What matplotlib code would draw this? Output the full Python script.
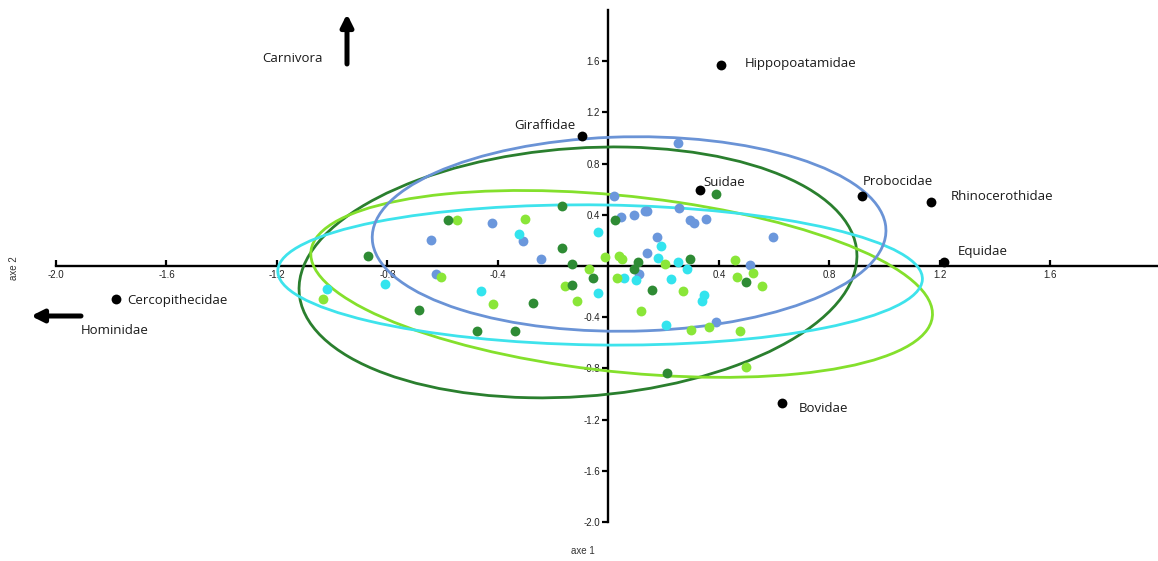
import matplotlib
matplotlib.use("Agg")
import matplotlib.pyplot as plt
from matplotlib.patches import Ellipse
import numpy as np

# scatter groups (axe 1, axe 2)
blue_x = [-0.641, -0.421, -0.309, -0.244, -0.623, 0.252, 0.02, 0.045, 0.092, 0.132, 0.139,
          0.255, 0.295, 0.31, 0.352, 0.175, 0.595, 0.139, 0.511, 0.11, 0.39]
blue_y = [0.20, 0.335, 0.195, 0.055, -0.06, 0.96, 0.55, 0.38, 0.40, 0.43, 0.43,
          0.45, 0.36, 0.335, 0.37, 0.23, 0.23, 0.10, 0.008, -0.06, -0.435]

cyan_x = [-0.323, -0.038, -0.807, -1.017, -0.46, -0.038, 0.19, 0.179, 0.251, 0.284, 0.056,
          0.099, 0.226, 0.345, 0.338, 0.208]
cyan_y = [0.25, 0.265, -0.14, -0.18, -0.195, -0.21, 0.16, 0.06, 0.03, -0.02, -0.09,
          -0.11, -0.10, -0.225, -0.275, -0.46]

ltgreen_x = [-0.548, -0.302, -0.07, -0.605, -1.035, -0.417, -0.157, -0.114, -0.013, 0.038,
             0.049, 0.204, 0.458, 0.031, 0.465, 0.525, 0.558, 0.27, 0.117, 0.30, 0.363,
             0.478, 0.497]
ltgreen_y = [0.36, 0.366, -0.02, -0.085, -0.26, -0.30, -0.16, -0.27, 0.07, 0.08,
             0.055, 0.016, 0.047, -0.09, -0.085, -0.055, -0.16, -0.195, -0.35, -0.50, -0.48,
             -0.51, -0.79]

dkgreen_x = [-0.168, -0.580, -0.168, -0.872, -0.132, -0.056, -0.684, -0.273, -0.132, -0.475,
             -0.338, 0.389, 0.024, 0.107, 0.295, 0.092, 0.497, 0.157, 0.212]
dkgreen_y = [0.468, 0.36, 0.14, 0.08, 0.016, -0.09, -0.34, -0.29, -0.15, -0.51,
             -0.51, 0.56, 0.36, 0.03, 0.055, -0.02, -0.125, -0.19, -0.835]

# families (black dots)
fam_names = ["Hippopoatamidae", "Giraffidae", "Suidae", "Probocidae", "Rhinocerothidae",
             "Equidae", "Cercopithecidae", "Bovidae"]
fam_x = [0.407, -0.096, 0.331, 0.920, 1.169, 1.216, -1.784, 0.630]
fam_y = [1.567, 1.013, 0.592, 0.546, 0.499, 0.031, -0.257, -1.068]

# ellipses: centre, sqrt of variances and covariance
ell_cx = [-0.11, 0.048, -0.03, 0.075]
ell_cy = [-0.05, -0.14, -0.07, 0.25]
ell_sx = [1.01, 1.1255, 1.167, 0.93]
ell_sy = [0.98, 0.73, 0.548, 0.76]
ell_sxy = [0.13, -0.264, -0.035, 0.025]

c_blue = "#6b97dc"
c_cyan = "#33e4ee"
c_lt = "#8ae638"
c_dk = "#2e8b34"
ell_colors = ["#2a7f2e", "#84e02c", "#3ee3ec", "#6a93d6"]

# label offsets in pixels (dx, dy, ha)
lab_off = [(24, 2, "left"), (-6, 11, "right"), (4, 8, "left"), (0, 15, "left"),
           (20, 6, "left"), (14, 11, "left"), (12, -2, "left"), (16, -6, "left")]

fig = plt.figure(figsize=(11.58, 5.61), dpi=100)
ax = fig.add_axes([56 / 1158, 39 / 561, 1102 / 1158, 512 / 561])
ax.set_xlim(-2.0, 1.99)
ax.set_ylim(-2.0, 2.0)

for cx, cy, sx, sy, sxy, col in zip(ell_cx, ell_cy, ell_sx, ell_sy, ell_sxy, ell_colors):
    cov = np.array([[sx ** 2, sxy], [sxy, sy ** 2]])
    vals, vecs = np.linalg.eigh(cov)
    ang = np.degrees(np.arctan2(vecs[1, 1], vecs[0, 1]))
    ax.add_patch(Ellipse((cx, cy), 2 * np.sqrt(vals[1]), 2 * np.sqrt(vals[0]), angle=ang,
                         fill=False, edgecolor=col, lw=2.0, zorder=2))

ms = 50
ax.scatter(blue_x, blue_y, s=ms, color=c_blue, lw=0, zorder=3)
ax.scatter(cyan_x, cyan_y, s=ms, color=c_cyan, lw=0, zorder=3)
ax.scatter(ltgreen_x, ltgreen_y, s=ms, color=c_lt, lw=0, zorder=3)
ax.scatter(dkgreen_x, dkgreen_y, s=ms, color=c_dk, lw=0, zorder=3)
ax.scatter(fam_x, fam_y, s=ms, color="black", lw=0, zorder=4)

for name, x, y, (dx, dy, ha) in zip(fam_names, fam_x, fam_y, lab_off):
    ax.annotate(name, (x, y), xytext=(dx, dy), textcoords="offset pixels",
                ha=ha, va="center", fontsize=9.5, family="Open Sans", color="#1a1a1a")

# axes through origin
for s in ["top", "right"]:
    ax.spines[s].set_visible(False)
ax.spines["left"].set_position(("data", 0))
ax.spines["bottom"].set_position(("data", 0))
ax.spines["left"].set_linewidth(1.7)
ax.spines["bottom"].set_linewidth(1.7)
ax.spines["left"].set_zorder(1)
ax.spines["bottom"].set_zorder(1)

xt = [-2.0, -1.6, -1.2, -0.8, -0.4, 0.4, 0.8, 1.2, 1.6]
yt = [-2.0, -1.6, -1.2, -0.8, -0.4, 0.4, 0.8, 1.2, 1.6]
ax.set_xticks(xt)
ax.set_xticklabels([f"{v:.1f}" for v in xt])
ax.set_yticks(yt)
ax.set_yticklabels([f"{v:.1f}" for v in yt])
ax.tick_params(axis="x", direction="in", length=4, width=1.6, labelsize=7, pad=3)
ax.tick_params(axis="y", direction="out", length=4, width=1.6, labelsize=7, pad=2)
for lab in ax.get_xticklabels() + ax.get_yticklabels():
    lab.set_family("Liberation Sans")
    lab.set_color("#222222")

fig.text(14 / 1158, 1 - 268 / 561, "axe 2", rotation=90, ha="center", va="center",
         fontsize=7, family="Liberation Sans", color="#333333")
fig.text(583 / 1158, 1 - 551 / 561, "axe 1", ha="center", va="center",
         fontsize=7, family="Liberation Sans", color="#333333")

# direction arrows
ax.annotate("", xy=(347 / 1158, 1 - 14 / 561), xytext=(347 / 1158, 1 - 64 / 561),
            xycoords="figure fraction",
            arrowprops=dict(arrowstyle="-|>", lw=3.6, color="black", mutation_scale=18,
                            shrinkA=0, shrinkB=0))
fig.text(262 / 1158, 1 - 59 / 561, "Carnivora", ha="left", va="center", fontsize=9.5,
         family="Open Sans", color="#1a1a1a")
ax.annotate("", xy=(31 / 1158, 1 - 316 / 561), xytext=(81 / 1158, 1 - 316 / 561),
            xycoords="figure fraction",
            arrowprops=dict(arrowstyle="-|>", lw=3.6, color="black", mutation_scale=18,
                            shrinkA=0, shrinkB=0))
fig.text(81 / 1158, 1 - 330 / 561, "Hominidae", ha="left", va="center", fontsize=9.5,
         family="Open Sans", color="#1a1a1a")

fig.savefig("out.png", dpi=100)
